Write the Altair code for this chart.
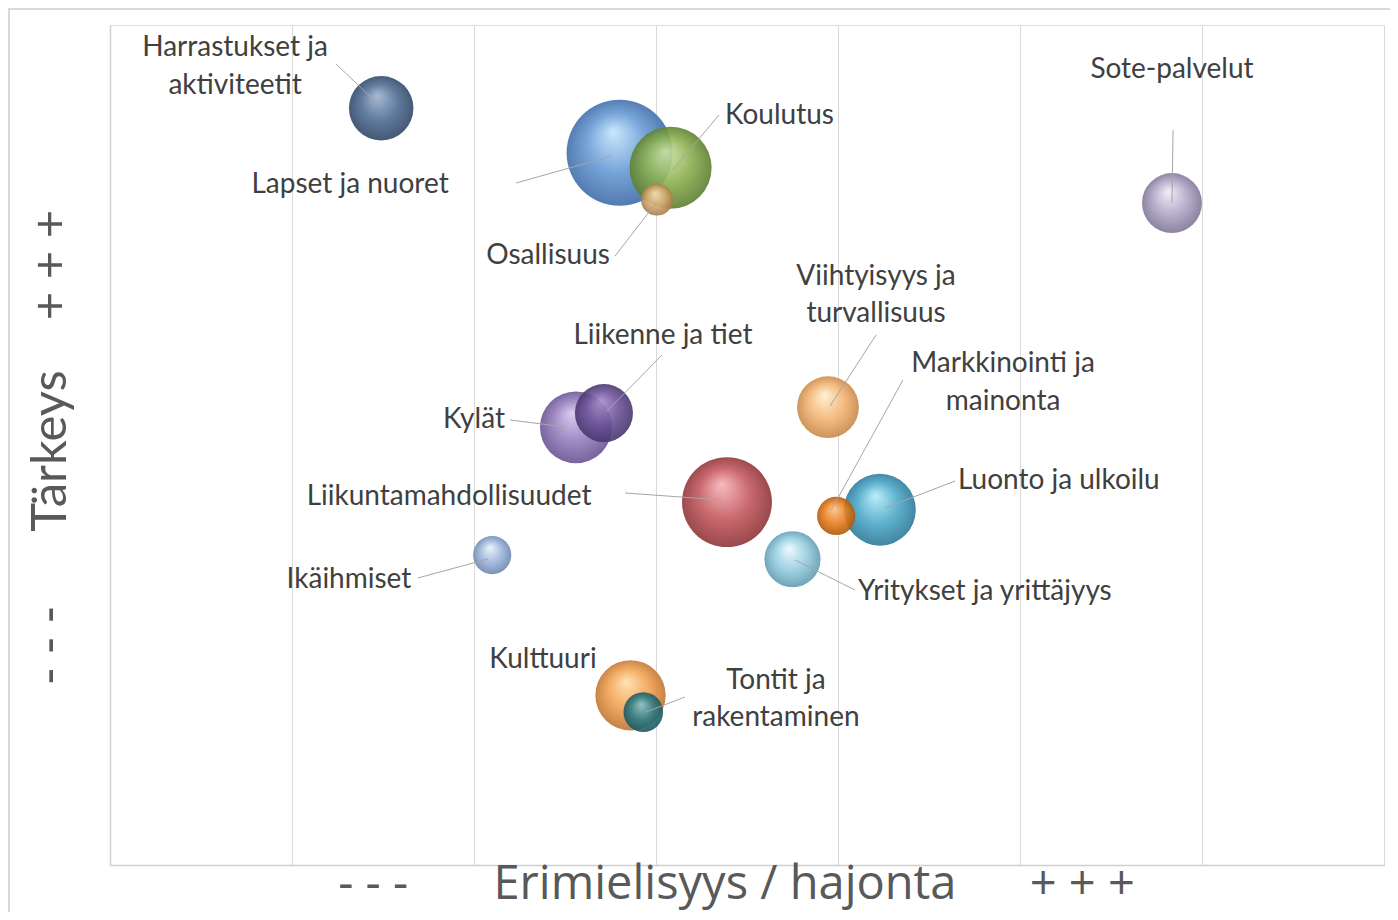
import altair as alt
import pandas as pd

# ---- data ----
aiheet = ["Lapset ja nuoret", "Koulutus", "Osallisuus", "Harrastukset ja aktiviteetit",
          "Sote-palvelut", "Viihtyisyys ja turvallisuus", "Kylät", "Liikenne ja tiet",
          "Liikuntamahdollisuudet", "Luonto ja ulkoilu", "Markkinointi ja mainonta",
          "Yritykset ja yrittäjyys", "Ikäihmiset", "Kulttuuri", "Tontit ja rakentaminen"]
hajonta = [2.80, 3.08, 3.005, 1.49, 5.835, 3.945, 2.56, 2.714, 3.39, 4.23, 3.99, 3.75, 2.10, 2.86, 2.93]
tarkeys = [8.48, 8.30, 7.92, 9.01, 7.88, 5.45, 5.21, 5.38, 4.32, 4.23, 4.155, 3.64, 3.69, 2.02, 1.82]
koko = [100, 60, 9, 37, 32, 34, 46, 30, 72, 46, 13, 28, 13, 44, 14]

# label lines (text, x, y, align)
label_text = ["Harrastukset ja", "aktiviteetit", "Lapset ja nuoret", "Koulutus", "Osallisuus",
              "Sote-palvelut", "Viihtyisyys ja", "turvallisuus", "Liikenne ja tiet",
              "Markkinointi ja", "mainonta", "Kylät", "Liikuntamahdollisuudet",
              "Luonto ja ulkoilu", "Yritykset ja yrittäjyys", "Ikäihmiset", "Kulttuuri",
              "Tontit ja", "rakentaminen"]
label_x = [0.687, 0.687, 1.319, 3.379, 2.407, 5.835, 4.209, 4.209, 3.038, 4.907, 4.907,
           2.170, 1.863, 4.659, 4.110, 1.313, 2.379, 3.659, 3.659]
label_y = [9.726, 9.274, 8.095, 8.917, 7.25, 9.464, 7.0, 6.56, 6.298, 5.964, 5.512,
           5.298, 4.381, 4.571, 3.25, 3.393, 2.440, 2.190, 1.75]
label_align = ["center", "center", "center", "left", "center", "center", "center", "center",
               "center", "center", "center", "right", "center", "left", "left", "center",
               "center", "center", "center"]

# leader lines (from label to bubble)
lead_x1 = [1.242, 2.231, 3.346, 2.775, 5.841, 4.209, 3.033, 4.357, 2.198, 2.830, 4.643, 4.093, 1.692, 3.159]
lead_y1 = [9.536, 8.119, 8.929, 7.25, 8.75, 6.31, 6.071, 5.774, 5.298, 4.429, 4.571, 3.274, 3.417, 2.0]
lead_x2 = [1.484, 2.758, 3.093, 3.0, 5.835, 3.956, 2.725, 3.962, 2.505, 3.363, 4.258, 3.764, 2.077, 2.945]
lead_y2 = [9.036, 8.440, 8.274, 7.881, 7.881, 5.464, 5.393, 4.220, 5.214, 4.345, 4.25, 3.631, 3.643, 1.821]

# ---- styles ----
colors = {
    "Harrastukset ja aktiviteetit": ("#9db4d2", "#4f6c92", "#2f4464"),
    "Lapset ja nuoret": ("#c4e6fc", "#6698d4", "#3d6aa4"),
    "Koulutus": ("#cfe4a4", "#89ae4e", "#5a7a2e"),
    "Osallisuus": ("#fae2bc", "#d8ac74", "#a27846"),
    "Sote-palvelut": ("#f0ecf8", "#b0a6c6", "#7c7294"),
    "Viihtyisyys ja turvallisuus": ("#fff0d0", "#f3b474", "#c48446"),
    "Kylät": ("#d6c6ee", "#957dbe", "#65508e"),
    "Liikenne ja tiet": ("#a890cc", "#6c5298", "#45326a"),
    "Liikuntamahdollisuudet": ("#f8b4b8", "#c3585e", "#8a3236"),
    "Luonto ja ulkoilu": ("#b6ecfa", "#4ca8c8", "#2a7694"),
    "Markkinointi ja mainonta": ("#fdc68a", "#e87e20", "#aa5606"),
    "Yritykset ja yrittäjyys": ("#eafafe", "#96cde0", "#5c98ae"),
    "Ikäihmiset": ("#eaf2fc", "#9cb5da", "#6a84ac"),
    "Kulttuuri": ("#ffdeaa", "#f1a252", "#bc722e"),
    "Tontit ja rakentaminen": ("#88c6ce", "#2f7d89", "#1a525c"),
}

FONT = "Lato"
TEXT_COLOR = "#404040"
NB = "\u00a0"

df = pd.DataFrame({"aihe": aiheet, "hajonta": hajonta, "tarkeys": tarkeys, "koko": koko})
lab = pd.DataFrame({"teksti": label_text, "x": label_x, "y": label_y, "align": label_align})
lead = pd.DataFrame({"x1": lead_x1, "y1": lead_y1, "x2": lead_x2, "y2": lead_y2})

xscale = alt.Scale(domain=[0, 7], nice=False, zero=False)
yscale = alt.Scale(domain=[0, 10], nice=False, zero=False)
sscale = alt.Scale(domain=[0, 100], range=[0, 11236])

x_title = "-" + NB + "-" + NB + "-" + NB * 7 + "Erimielisyys / hajonta" + NB * 6 + "+" + NB + "+" + NB + "+"
y_title = "-" + NB + "-" + NB + "-" + NB * 6 + "Tärkeys" + NB * 4 + "+" + NB + "+" + NB + "+"

xenc = alt.X("hajonta:Q", scale=xscale,
             axis=alt.Axis(values=[1, 2, 3, 4, 5, 6, 7], labels=False, ticks=False, grid=True,
                           gridColor="#d9d9d9", gridWidth=1, domainColor="#d0d0d0", domainWidth=1.5,
                           title=x_title, titleFont="Open Sans", titleFontSize=47,
                           titleFontWeight="normal", titleColor="#595959",
                           titleX=626, titleY=33, titleBaseline="alphabetic", titleAlign="center"))
yenc = alt.Y("tarkeys:Q", scale=yscale,
             axis=alt.Axis(labels=False, ticks=False, grid=False, domainColor="#d0d0d0", domainWidth=1.5,
                           title=y_title, titleFont=FONT, titleFontSize=49,
                           titleFontWeight="normal", titleColor="#595959",
                           titleX=-60, titleY=422, titleAngle=-90,
                           titleBaseline="middle", titleAlign="center"))

base = alt.Chart(df)

layers = []
# outer chart border
layers.append(alt.Chart(df).mark_rect(fill="transparent", stroke="#d9d9d9", strokeWidth=1.5).encode(
    x=alt.value(-101), x2=alt.value(1286), y=alt.value(-16), y2=alt.value(900)))

first = True
for name in aiheet:
    light, mid, dark = colors[name]
    grad = alt.RadialGradient(
        gradient="radial",
        stops=[alt.GradientStop(color=light, offset=0),
               alt.GradientStop(color=mid, offset=0.55),
               alt.GradientStop(color=dark, offset=1)],
        x1=0.44, y1=0.30, r1=0, x2=0.5, y2=0.5, r2=0.52)
    layers.append(
        base.transform_filter(alt.datum.aihe == name)
        .mark_circle(fill=grad, opacity=0.9)
        .encode(x=xenc if first else alt.X("hajonta:Q", scale=xscale),
                y=yenc if first else alt.Y("tarkeys:Q", scale=yscale),
                size=alt.Size("koko:Q", scale=sscale, legend=None))
    )
    first = False

lines = alt.Chart(lead).mark_rule(color="#a6a6a6", strokeWidth=1).encode(
    x=alt.X("x1:Q", scale=xscale), y=alt.Y("y1:Q", scale=yscale),
    x2="x2:Q", y2="y2:Q")
layers.append(lines)

for al in ["center", "left", "right"]:
    layers.append(
        alt.Chart(lab).transform_filter(alt.datum.align == al)
        .mark_text(font=FONT, fontSize=28, color=TEXT_COLOR, align=al, baseline="middle")
        .encode(x=alt.X("x:Q", scale=xscale), y=alt.Y("y:Q", scale=yscale), text="teksti:N")
    )

chart = alt.layer(*layers).properties(
    width=1274, height=840,
    autosize=alt.AutoSizeParams(type="none"),
    padding={"left": 102, "top": 17, "right": 6, "bottom": 47},
).configure_view(stroke=None).configure(background="white")

chart.save("out.html", embed_options={"renderer": "svg", "actions": False})
